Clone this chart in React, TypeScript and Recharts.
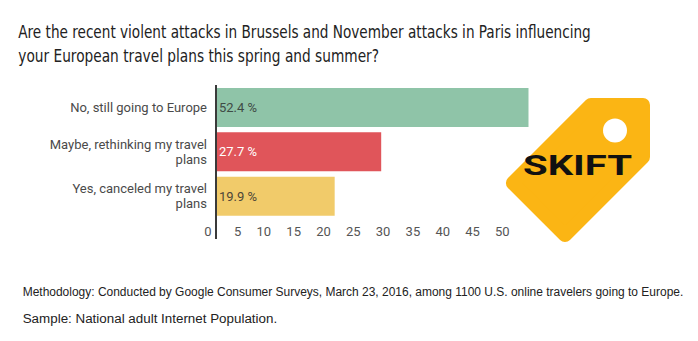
import { Bar, BarChart, Cell, LabelList, XAxis, YAxis } from 'recharts';

const answers = ['No, still going to Europe', 'Maybe, rethinking my travel plans', 'Yes, canceled my travel plans'];
const shares = [52.4, 27.7, 19.9];
const xTicks = [0, 5, 10, 15, 20, 25, 30, 35, 40, 45, 50];
const titleLines = [
    'Are the recent violent attacks in Brussels and November attacks in Paris influencing',
    'your European travel plans this spring and summer?',
];
const noteLines = [
    'Methodology: Conducted by Google Consumer Surveys, March 23, 2016, among 1100 U.S. online travelers going to Europe.',
    'Sample: National adult Internet Population.',
];

const barColors = ['#8fc4a8', '#e0555a', '#f1cb6a'];
const labelColors = ['#3f4b45', '#ffffff', '#4d4638'];
const titleFont = "'DejaVu Sans Condensed', 'Open Sans', sans-serif";

const data = answers.map((answer, i) => ({ answer, share: shares[i] }));

// break long category names into lines, like the survey tool does
const wrap = (text: string, max: number) => {
    const lines: string[] = [];
    let cur = '';
    text.split(' ').forEach((w) => {
        const next = cur ? cur + ' ' + w : w;
        if (next.length > max && cur) {
            lines.push(cur);
            cur = w;
        } else {
            cur = next;
        }
    });
    if (cur) lines.push(cur);
    return lines;
};

const AnswerTick = ({ x, y, payload }: any) => {
    const lines = wrap(payload.value, 27);
    const start = -((lines.length - 1) * 15) / 2;
    return (
        <text textAnchor='end' fontFamily='Roboto' fontSize={13} fill='#4a4a4a'>
            {lines.map((l, i) => (
                <tspan key={i} x={x - 1} y={y + start + i * 15} dy='0.35em'>
                    {l}
                </tspan>
            ))}
        </text>
    );
};

const ShareTick = ({ x, y, payload }: any) => (
    <g>
        {payload.value === 0 && <line x1={x} x2={x} y1={y - 10} y2={y + 13} stroke='#3a3a3a' strokeWidth={2} />}
        <text x={x - 4.5} y={y + 10} textAnchor='end' fontFamily='Roboto' fontSize={13} fill='#555'>
            {payload.value}
        </text>
    </g>
);

const ShareLabel = ({ x, y, height, value }: any) => {
    const i = shares.indexOf(value);
    return (
        <text x={x + 3} y={y + height / 2} dy='0.35em' fontFamily='Roboto' fontSize={13} fill={labelColors[i]}>
            {value} %
        </text>
    );
};

export default function App() {
    return (
        <div style={{ position: 'absolute', left: 0, top: 0, width: 698, height: 341, background: '#fff' }}>
            <BarChart
                width={698}
                height={341}
                data={data}
                layout='vertical'
                margin={{ top: 85, right: 154, bottom: 93, left: 0 }}
            >
                <XAxis
                    type='number'
                    domain={[0, 55]}
                    ticks={xTicks}
                    interval={0}
                    axisLine={false}
                    tickLine={false}
                    height={30}
                    tick={<ShareTick />}
                />
                <YAxis
                    type='category'
                    dataKey='answer'
                    width={216}
                    interval={0}
                    axisLine={{ stroke: '#3a3a3a', strokeWidth: 2 }}
                    tickLine={false}
                    tick={<AnswerTick />}
                />
                <Bar dataKey='share' barSize={39} isAnimationActive={false}>
                    {data.map((d, i) => (
                        <Cell key={d.answer} fill={barColors[i]} />
                    ))}
                    <LabelList dataKey='share' content={<ShareLabel />} />
                </Bar>
            </BarChart>
            <svg width={698} height={341} style={{ position: 'absolute', left: 0, top: 0, pointerEvents: 'none' }}>
                <text x={18.3} y={37.5} textLength={572.4} lengthAdjust='spacingAndGlyphs' fontFamily={titleFont} fontSize={18} fill='#222'>
                    {titleLines[0]}
                </text>
                <text x={18.3} y={62} textLength={360.7} lengthAdjust='spacingAndGlyphs' fontFamily={titleFont} fontSize={18} fill='#222'>
                    {titleLines[1]}
                </text>
                <text x={22.7} y={295.7} textLength={660.6} lengthAdjust='spacingAndGlyphs' fontFamily='Liberation Sans' fontSize={12} fill='#222'>
                    {noteLines[0]}
                </text>
                <text x={22.7} y={323.3} textLength={254.5} lengthAdjust='spacingAndGlyphs' fontFamily='Liberation Sans' fontSize={12} fill='#222'>
                    {noteLines[1]}
                </text>
                {/* Skift tag logo */}
                <polygon
                    points='643,105 590.9,105 512.9,183 565,235.1 643,157.1'
                    fill='#fbb514'
                    stroke='#fbb514'
                    strokeWidth={14}
                    strokeLinejoin='round'
                />
                <circle cx={615} cy={130.5} r={12} fill='#fff' />
                <text x={523} y={175} textLength={109} lengthAdjust='spacingAndGlyphs' fontFamily='Roboto' fontWeight={700} fontSize={27} fill='#111'>
                    SKIFT
                </text>
            </svg>
        </div>
    );
}
